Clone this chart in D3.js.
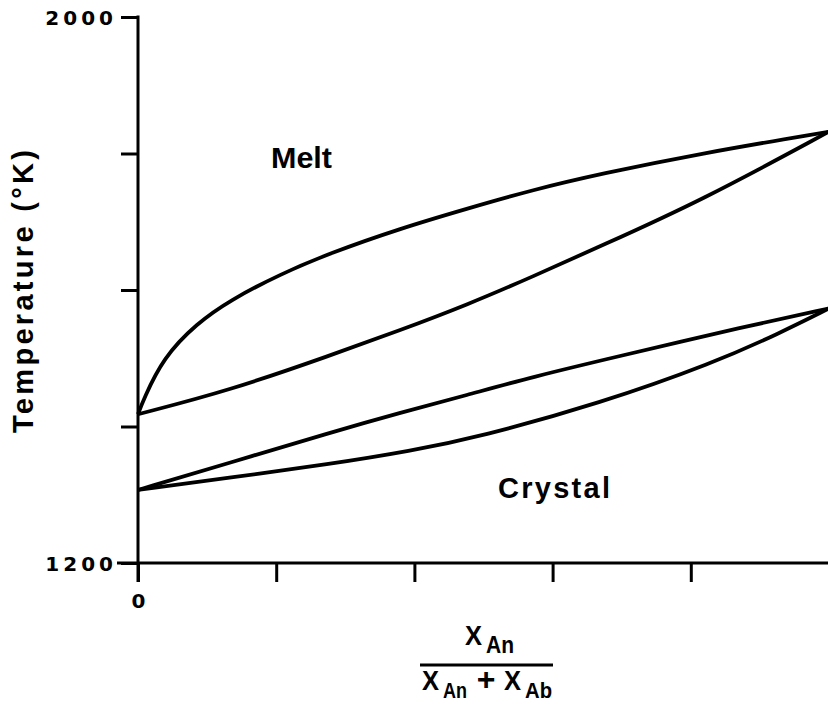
<!DOCTYPE html>
<html>
<head>
<meta charset="utf-8">
<script src="https://cdn.jsdelivr.net/npm/d3@7"></script>
<style>
  html, body { margin: 0; padding: 0; background: #fff; }
  svg { display: block; }
  .lbl { font-family: "Liberation Sans", Arial, sans-serif; font-weight: bold; fill: #000; }
  .num { font-family: "DejaVu Sans", sans-serif; font-weight: bold; fill: #000; }
</style>
</head>
<body>
<script>
// ---- data ----
const xTicks = [0, 0.2, 0.4, 0.6, 0.8];
const xTickLabels = ["0", "", "", "", ""];
const yTicks = [1200, 1400, 1600, 1800, 2000];
const yTickLabels = ["1200", "", "", "", "2000"];

// melt (upper) pair of curves, X_An vs temperature (K)
const meltUpperX = [0, 0.0077, 0.0366, 0.0849, 0.1331, 0.2055, 0.2779, 0.3792, 0.4757, 0.5721, 0.6686, 0.8133, 1];
const meltUpperT = [1418, 1439, 1501, 1551, 1585, 1623, 1654, 1690, 1719, 1747, 1770, 1800, 1832];
const meltLowerX = [0, 0.1331, 0.2779, 0.3792, 0.4757, 0.5721, 0.6686, 0.8133, 1];
const meltLowerT = [1418, 1453, 1504, 1541, 1578, 1620, 1664, 1730, 1832];

// crystal (lower) pair of curves
const crystUpperX = [0, 0.1331, 0.2779, 0.3792, 0.4757, 0.5721, 0.6878, 0.8809, 1];
const crystUpperT = [1307, 1347, 1391, 1420, 1446, 1473, 1501, 1547, 1573];
const crystLowerX = [0, 0.1331, 0.2779, 0.3936, 0.4949, 0.6686, 0.8326, 0.9291, 1];
const crystLowerT = [1307, 1325, 1345, 1364, 1385, 1434, 1493, 1537, 1573];

const W = 828, H = 704;
const svg = d3.select("body").append("svg").attr("width", W).attr("height", H);

const x = d3.scaleLinear().domain([0, 1]).range([138, 829]);
const y = d3.scaleLinear().domain([1200, 2000]).range([563, 17]);

const AX = 3;

// y axis
const yAxis = d3.axisLeft(y).tickValues(yTicks).tickSize(17).tickSizeOuter(0)
  .tickPadding(8).tickFormat((d, i) => yTickLabels[i]);
const gy = svg.append("g").attr("transform", `translate(${x(0)},0)`).call(yAxis);
gy.select(".domain").remove();
gy.selectAll(".tick line").attr("stroke", "#000").attr("stroke-width", AX);
gy.selectAll(".tick text").attr("class", "num").style("font-size", "20px")
  .style("letter-spacing", "4px").attr("dy", "0.36em").attr("x", -21);

// x axis
const xAxis = d3.axisBottom(x).tickValues(xTicks).tickSize(19).tickSizeOuter(0)
  .tickPadding(12).tickFormat((d, i) => xTickLabels[i]);
const gx = svg.append("g").attr("transform", `translate(0,${y(1200)})`).call(xAxis);
gx.select(".domain").remove();
gx.selectAll(".tick line").attr("stroke", "#000").attr("stroke-width", AX);
gx.selectAll(".tick text").attr("class", "num").style("font-size", "20px");

// axis lines (extended past the origin, as in the reference)
svg.append("line").attr("x1", x(0)).attr("x2", x(0))
  .attr("y1", y(2000) - 1.5).attr("y2", y(1200) + 19)
  .attr("stroke", "#000").attr("stroke-width", AX);
svg.append("line").attr("x1", x(0) - 21).attr("x2", W)
  .attr("y1", y(1200)).attr("y2", y(1200))
  .attr("stroke", "#000").attr("stroke-width", AX);

// curves
const line = d3.line().x(d => x(d[0])).y(d => y(d[1])).curve(d3.curveBasis);
const series = [
  d3.zip(meltUpperX, meltUpperT),
  d3.zip(meltLowerX, meltLowerT),
  d3.zip(crystUpperX, crystUpperT),
  d3.zip(crystLowerX, crystLowerT)
];
svg.append("g").selectAll("path").data(series).join("path")
  .attr("d", line).attr("fill", "none").attr("stroke", "#000")
  .attr("stroke-width", 3.8).attr("stroke-linejoin", "round");

// region labels
svg.append("text").attr("class", "lbl").attr("x", 271).attr("y", 168)
  .style("font-size", "29px").attr("textLength", 61).attr("lengthAdjust", "spacingAndGlyphs").text("Melt");
svg.append("text").attr("class", "lbl").attr("x", 498).attr("y", 498)
  .style("font-size", "29px").attr("textLength", 112).attr("lengthAdjust", "spacing").text("Crystal");

// y axis title
svg.append("text").attr("class", "lbl")
  .attr("transform", "translate(33,291.5) rotate(-90)")
  .attr("text-anchor", "middle").style("font-size", "29px")
  .attr("textLength", 283).attr("lengthAdjust", "spacing")
  .text("Temperature (°K)");

// x axis title: X_An / (X_An + X_Ab)
function xsub(xp, yp, main, sub, subLen, subSize) {
  svg.append("text").attr("class", "lbl").attr("x", xp).attr("y", yp)
    .style("font-size", "28px").attr("textLength", 17).attr("lengthAdjust", "spacingAndGlyphs").text(main);
  svg.append("text").attr("class", "lbl").attr("x", xp + 21).attr("y", yp + 8)
    .style("font-size", subSize + "px").attr("textLength", subLen).attr("lengthAdjust", "spacingAndGlyphs").text(sub);
}
xsub(465, 645, "X", "An", 28, 24);
svg.append("line").attr("x1", 420).attr("x2", 553).attr("y1", 665).attr("y2", 665)
  .attr("stroke", "#000").attr("stroke-width", 3);
xsub(422, 690, "X", "An", 24, 22);
svg.append("text").attr("class", "lbl").attr("x", 486).attr("y", 690)
  .attr("text-anchor", "middle").style("font-size", "32px").text("+");
xsub(504, 690, "X", "Ab", 27, 22);
</script>
</body>
</html>
